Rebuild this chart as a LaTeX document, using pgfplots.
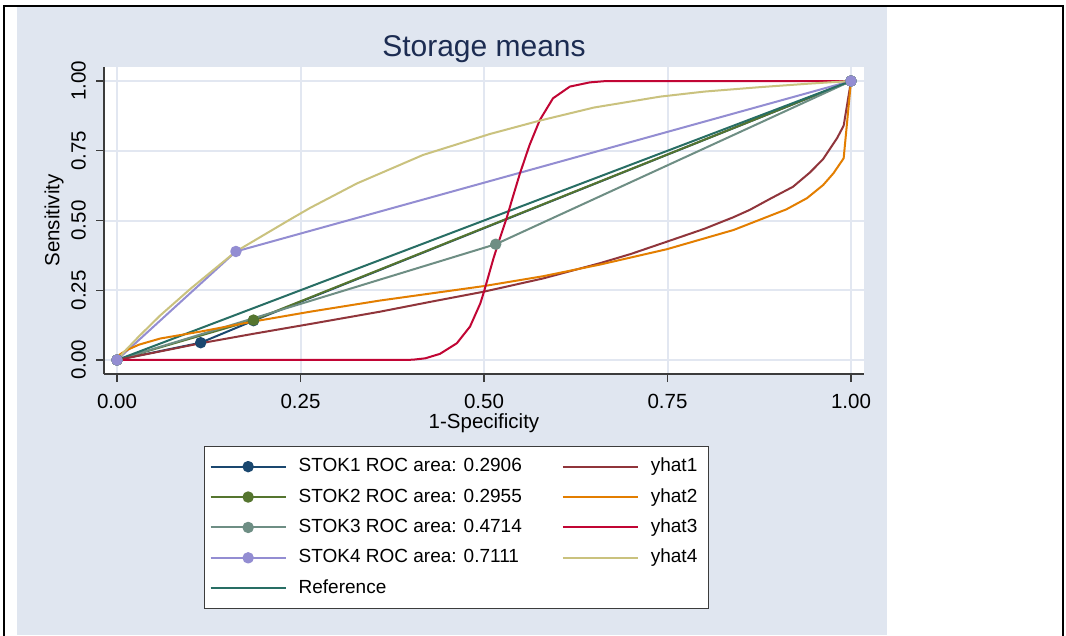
\documentclass[border=0pt]{standalone}
\usepackage{fontspec}
\setmainfont{Liberation Sans}
\usepackage{pgfplots}
\pgfplotsset{compat=1.18}
\definecolor{bgblue}{RGB}{224,230,240}
\definecolor{gridc}{RGB}{226,231,241}
\definecolor{stokA}{RGB}{26,71,111}
\definecolor{stokB}{RGB}{85,117,47}
\definecolor{stokC}{RGB}{110,142,132}
\definecolor{stokD}{RGB}{147,141,210}
\definecolor{refcol}{RGB}{40,110,100}
\definecolor{yhatA}{RGB}{144,53,59}
\definecolor{yhatB}{RGB}{227,126,0}
\definecolor{yhatC}{RGB}{193,5,52}
\definecolor{yhatD}{RGB}{202,194,126}
\definecolor{titlec}{RGB}{28,44,82}
\definecolor{axc}{RGB}{60,60,60}
\begin{document}
\begin{tikzpicture}
\path[use as bounding box] (0pt,0pt) rectangle (1066pt,635pt);
\fill[white] (0pt,0pt) rectangle (1066pt,635pt);
\fill[bgblue] (17pt,0pt) rectangle (887pt,628pt);
\draw[black, line width=2pt] (4pt,-5pt) -- (4pt,629pt) -- (1063pt,629pt) -- (1063pt,-5pt);
\begin{axis}[
  at={(104pt,261pt)}, anchor=south west,
  scale only axis, width=760pt, height=307pt,
  xmin=-0.01771, xmax=1.01771, ymin=-0.0502, ymax=1.0502,
  axis x line*=bottom, axis y line*=left,
  axis line style={draw=axc, line width=1.3pt},
  axis background/.style={fill=white},
  tick align=outside, major tick length=8pt,
  tick style={draw=axc, line width=1.3pt},
  grid=major, major grid style={draw=gridc, line width=2pt},
  xtick={0,0.25,0.5,0.75,1}, xticklabels={0.00,0.25,0.50,0.75,1.00},
  ytick={0,0.25,0.5,0.75,1},
  yticklabels={\rotatebox{90}{0.00},\rotatebox{90}{0.25},\rotatebox{90}{0.50},\rotatebox{90}{0.75},\rotatebox{90}{1.00}},
  ticklabel style={font=\fontsize{20.5}{24}\selectfont, text=black},
  xticklabel style={anchor=base, inner sep=0pt, yshift=-26pt},
  yticklabel style={anchor=east, inner sep=0pt, xshift=-10pt},
  xlabel={1-Specificity}, ylabel={Sensitivity},
  label style={font=\fontsize{20.5}{24}\selectfont, text=black},
  xlabel style={at={(0.5,-0.1726)}, anchor=base, yshift=-2pt},
  ylabel style={at={(-0.0588,0.5)}, anchor=base},
  title={Storage means},
  title style={at={(0.5,1.03257)}, anchor=base, yshift=-6pt, font=\fontsize{30}{36}\selectfont, text=titlec},
  every axis plot/.append style={line width=2pt, line join=round},
  legend columns=5, transpose legend,
  legend cell align=left,
  legend style={at={(0.1316,-0.2345)}, anchor=north west, draw=axc, line width=1.3pt, fill=white,
    font=\fontsize{19}{22}\selectfont, inner xsep=5pt, inner ysep=11pt,
    nodes={inner xsep=6pt, inner ysep=0pt, text height=14pt, text depth=4pt},
    row sep=12.4pt,
    /tikz/every odd column/.append style={column sep=6pt},
    /tikz/every even column/.append style={column sep=34pt}},
  legend image code/.code={\draw[mark repeat=2,mark phase=2] plot coordinates {(0pt,0pt) (37.5pt,0pt) (75pt,0pt)};},
]
% ROC curves
\addplot[color=stokA, line width=2pt, mark=*, mark size=4.7pt, mark options={fill=stokA, draw=stokA}] coordinates {(0,0) (0.114,0.062) (0.186,0.141) (1,1)};
\addlegendentry{STOK1 ROC area: 0.2906}
\addplot[color=stokB, line width=2pt, mark=*, mark size=4.7pt, mark options={fill=stokB, draw=stokB}] coordinates {(0,0) (0.186,0.143) (1,1)};
\addlegendentry{STOK2 ROC area: 0.2955}
\addplot[color=stokC, line width=2pt, mark=*, mark size=4.7pt, mark options={fill=stokC, draw=stokC}] coordinates {(0,0) (0.516,0.415) (1,1)};
\addlegendentry{STOK3 ROC area: 0.4714}
\addplot[color=stokD, line width=2pt, mark=*, mark size=4.7pt, mark options={fill=stokD, draw=stokD}] coordinates {(0,0) (0.162,0.389) (1,1)};
\addlegendentry{STOK4 ROC area: 0.7111}
\addplot[color=refcol, line width=2pt] coordinates {(0,0) (1,1)};
\addlegendentry{Reference}
% fitted curves
\addplot[color=yhatA, line width=2pt] coordinates {(0,0) (0.05,0.026) (0.114,0.060) (0.186,0.094) (0.263,0.129) (0.358,0.173) (0.43,0.21) (0.5,0.245) (0.58,0.292) (0.658,0.347) (0.7,0.38) (0.749,0.424) (0.80,0.47) (0.84,0.512) (0.862,0.538) (0.89,0.578) (0.921,0.621) (0.944,0.672) (0.962,0.72) (0.981,0.795) (0.99,0.84) (1,1)};
\addlegendentry{yhat1}
\addplot[color=yhatB, line width=2pt] coordinates {(0,0) (0.004,0.02) (0.013,0.035) (0.03,0.055) (0.059,0.077) (0.114,0.102) (0.186,0.138) (0.263,0.173) (0.358,0.213) (0.5,0.265) (0.58,0.30) (0.658,0.342) (0.749,0.397) (0.84,0.466) (0.912,0.54) (0.94,0.58) (0.962,0.627) (0.976,0.669) (0.99,0.723) (1,1)};
\addlegendentry{yhat2}
\addplot[color=yhatC, line width=2pt] coordinates {(0,0) (0.38,0) (0.403,0.001) (0.42,0.006) (0.44,0.022) (0.463,0.06) (0.481,0.12) (0.495,0.203) (0.5,0.245) (0.513,0.365) (0.519,0.415) (0.531,0.51) (0.538,0.573) (0.549,0.669) (0.562,0.77) (0.576,0.86) (0.594,0.938) (0.617,0.98) (0.644,0.995) (0.667,1.0) (1,1)};
\addlegendentry{yhat3}
\addplot[color=yhatD, line width=2pt] coordinates {(0,0) (0.01,0.03) (0.03,0.085) (0.059,0.16) (0.1,0.255) (0.162,0.389) (0.236,0.504) (0.263,0.545) (0.327,0.633) (0.417,0.735) (0.508,0.81) (0.576,0.858) (0.65,0.905) (0.74,0.944) (0.8,0.962) (0.876,0.978) (0.94,0.99) (1,1)};
\addlegendentry{yhat4}
\end{axis}
\end{tikzpicture}
\end{document}
